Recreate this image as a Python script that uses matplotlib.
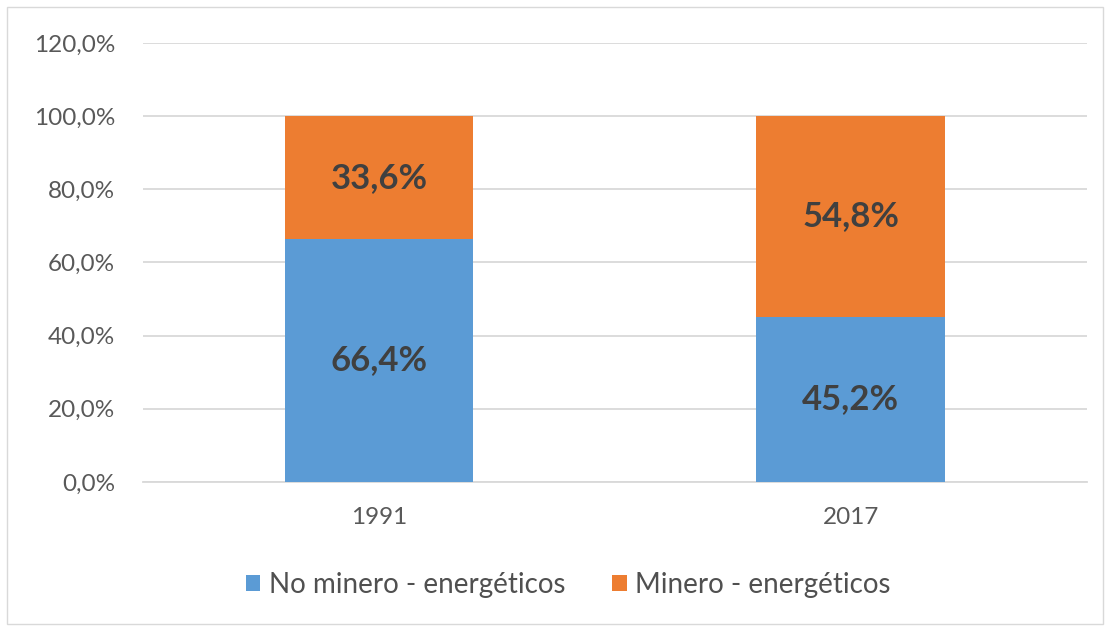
import matplotlib.pyplot as plt
from matplotlib.patches import Rectangle
from matplotlib.ticker import FuncFormatter

# datos
years = ['1991', '2017']
no_minero = [66.4, 45.2]
minero = [33.6, 54.8]
series_names = ['No minero - energéticos', 'Minero - energéticos']

plt.rcParams['font.family'] = ['Lato', 'DejaVu Sans']

fig = plt.figure(figsize=(11.1, 6.27), dpi=100)
ax = fig.add_axes([0.1288, 0.2313, 0.8502, 0.7001])

x = range(len(years))
b1 = ax.bar(x, no_minero, width=0.4, color='#5B9BD5', label=series_names[0], zorder=3)
b2 = ax.bar(x, minero, width=0.4, bottom=no_minero, color='#ED7D31', label=series_names[1], zorder=3)

for bars, vals, base in [(b1, no_minero, [0, 0]), (b2, minero, no_minero)]:
    for bar, v, b in zip(bars, vals, base):
        ax.text(bar.get_x() + bar.get_width() / 2, b + v / 2,
                f'{v:.1f}%'.replace('.', ','), ha='center', va='center',
                fontsize=25, fontweight='bold', color='#404040', zorder=4)

ax.set_xlim(-0.5, 1.5)
ax.set_ylim(0, 120)
ax.set_yticks(range(0, 121, 20))
ax.yaxis.set_major_formatter(FuncFormatter(lambda v, p: f'{v:.1f}%'.replace('.', ',')))
ax.set_xticks(list(x))
ax.set_xticklabels(years)
ax.tick_params(axis='both', length=0, labelsize=17.5, labelcolor='#595959')
ax.tick_params(axis='y', pad=20)
ax.tick_params(axis='x', pad=18)
ax.grid(axis='y', color='#d9d9d9', linewidth=1.3, zorder=0)
for s in ['top', 'right', 'left']:
    ax.spines[s].set_visible(False)
ax.spines['bottom'].set_color('#d9d9d9')
ax.spines['bottom'].set_linewidth(1.3)

leg = fig.legend(loc='center', bbox_to_anchor=(0.512, 0.067), ncol=2, frameon=False,
                 fontsize=20, handlelength=0.52, handleheight=0.52, handletextpad=0.3,
                 columnspacing=1.7)
for t in leg.get_texts():
    t.set_color('#505050')

fig.patches.append(Rectangle((7 / 1110, 3 / 627), 1 - 14 / 1110, 1 - 10 / 627,
                             transform=fig.transFigure, fill=False,
                             edgecolor='#d9d9d9', linewidth=1))

fig.savefig('out.png', dpi=100)
